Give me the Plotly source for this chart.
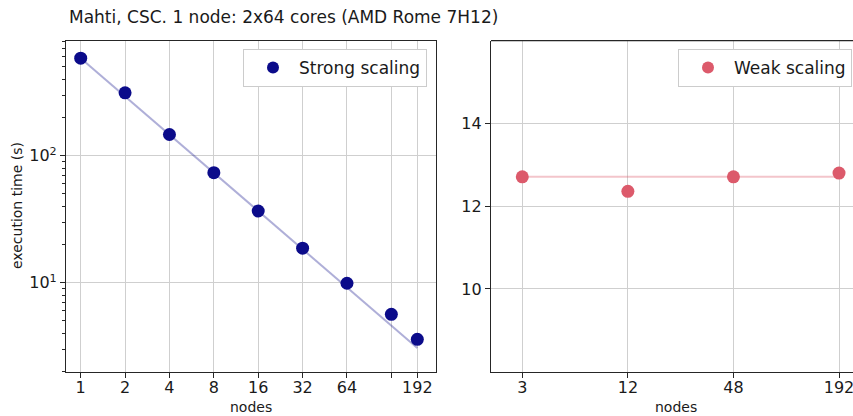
import plotly.graph_objects as go

# Strong scaling: fixed problem size, execution time vs node count
strong_nodes = [1, 2, 4, 8, 16, 32, 64, 128, 192]
strong_time = [587, 313, 147, 73.5, 36.7, 18.7, 9.9, 5.64, 3.58]
strong_ticks = [1, 2, 4, 8, 16, 32, 64, 128, 192]
strong_ticktext = ["1", "2", "4", "8", "16", "32", "64", "", "192"]

# Weak scaling: problem size grows with node count
weak_nodes = [3, 12, 48, 192]
weak_time = [12.71, 12.36, 12.71, 12.80]
weak_ticks = [3, 12, 48, 192]
weak_yticks = [10, 12, 14]

TITLE = "Mahti, CSC. 1 node: 2x64 cores (AMD Rome 7H12)"

W, H = 853, 416
FONT = "DejaVu Sans"
NAVY = "#0b0b8a"
NAVY_LINE = "rgba(11,11,138,0.33)"
RED = "#dc5a6b"
RED_LINE = "rgba(220,90,107,0.35)"
GRID = "#cfcfcf"
AXIS = "#262626"


def px_x(x):
    return x / W


def px_y(y):
    return 1 - y / H


# ideal scaling reference lines
ideal_strong = [strong_time[0] * strong_nodes[0] / n for n in (strong_nodes[0], strong_nodes[-1])]
flat_weak = [weak_time[0], weak_time[0]]

fig = go.Figure()
fig.add_trace(go.Scatter(
    x=[strong_nodes[0], strong_nodes[-1]], y=ideal_strong, mode="lines",
    line=dict(color=NAVY_LINE, width=2), showlegend=False, hoverinfo="skip",
    xaxis="x", yaxis="y"))
fig.add_trace(go.Scatter(
    x=strong_nodes, y=strong_time, mode="markers", name="Strong scaling",
    marker=dict(color=NAVY, size=13), xaxis="x", yaxis="y", legend="legend"))
fig.add_trace(go.Scatter(
    x=[weak_nodes[0], weak_nodes[-1]], y=flat_weak, mode="lines",
    line=dict(color=RED_LINE, width=2), showlegend=False, hoverinfo="skip",
    xaxis="x2", yaxis="y2"))
fig.add_trace(go.Scatter(
    x=weak_nodes, y=weak_time, mode="markers", name="Weak scaling",
    marker=dict(color=RED, size=13), xaxis="x2", yaxis="y2", legend="legend2"))

y_dom = [px_y(371.7), px_y(40.7)]
common = dict(showline=True, linecolor=AXIS, linewidth=1.2, ticks="outside",
              ticklen=5, tickcolor=AXIS, showgrid=True, gridcolor=GRID,
              gridwidth=1, zeroline=False, automargin=False,
              ticklabeloverflow="allow",
              tickfont=dict(family=FONT, size=16, color="#1a1a1a"))

minor_vals = [m * d for d in (1, 10, 100) for m in range(2, 10) if 2 <= m * d <= 800]

legend_style = dict(xanchor="right", yanchor="top", bgcolor="white",
                    bordercolor="#cccccc", borderwidth=1,
                    font=dict(family=FONT, size=17, color="#1a1a1a"),
                    itemsizing="constant", itemwidth=42, indentation=3)

fig.update_layout(
    width=W, height=H, margin=dict(l=0, r=0, t=0, b=0),
    paper_bgcolor="white", plot_bgcolor="white",
    font=dict(family=FONT, color="#1a1a1a"),
    xaxis=dict(domain=[px_x(66), px_x(436)], type="log", anchor="y",
               range=[-0.0997, 2.41], tickmode="array", tickvals=strong_ticks,
               ticktext=strong_ticktext, mirror=True, ticklabelstandoff=-4,
               **common),
    yaxis=dict(domain=y_dom, type="log", anchor="x", range=[0.299, 2.906],
               tickmode="array", tickvals=[10, 100],
               ticktext=["10<sup>1</sup>", "10<sup>2</sup>"], mirror=True,
               minor=dict(tickmode="array", tickvals=minor_vals, ticks="outside",
                          ticklen=3, tickcolor=AXIS, showgrid=False),
               **common),
    xaxis2=dict(domain=[px_x(491), 1.0], type="log", anchor="y2",
                range=[0.2987, 2.363], tickmode="array", tickvals=weak_ticks,
                mirror=False, ticklabelstandoff=-4, **common),
    yaxis2=dict(domain=y_dom, anchor="x2", range=[8, 16], tickmode="array",
                tickvals=weak_yticks, mirror=False, **common),
    legend=dict(x=px_x(427), y=px_y(49), **legend_style),
    legend2=dict(x=px_x(852), y=px_y(49), **legend_style),
    showlegend=True,
)

# top border for the weak-scaling panel
fig.add_shape(type="line", xref="x2 domain", yref="y2 domain", x0=0, x1=1,
              y0=1, y1=1, line=dict(color=AXIS, width=1.2))

annotations = [
    dict(text=TITLE, x=px_x(67), y=px_y(17), xanchor="left", yanchor="middle",
         font=dict(size=17)),
    dict(text="execution time (s)", x=px_x(17), y=px_y(206), textangle=-90,
         xanchor="center", yanchor="middle", font=dict(size=14)),
    dict(text="nodes", x=px_x(251), y=px_y(407), xanchor="center",
         yanchor="middle", font=dict(size=14)),
    dict(text="nodes", x=px_x(676), y=px_y(407), xanchor="center",
         yanchor="middle", font=dict(size=14)),
]
for a in annotations:
    a.update(xref="paper", yref="paper", showarrow=False)
    a["font"].update(family=FONT, color="#1a1a1a")
fig.update_layout(annotations=annotations)

fig.write_html("out.html")
